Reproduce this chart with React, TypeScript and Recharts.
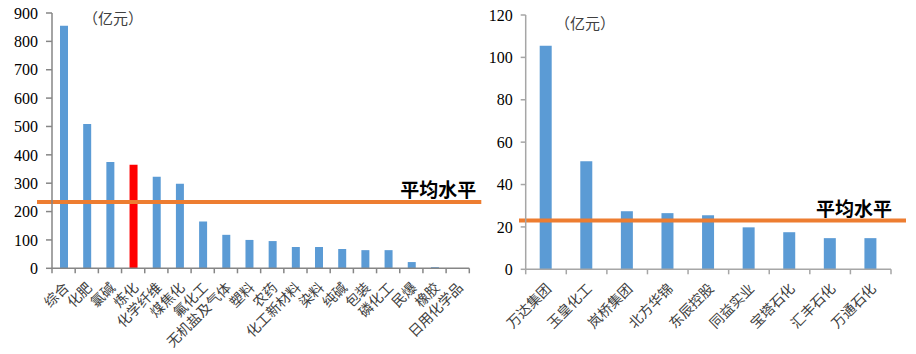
import React from 'react';
import { BarChart, Bar, XAxis, YAxis, Cell, ReferenceLine } from 'recharts';

// Left chart: industries
const leftCategories = ['综合', '化肥', '氯碱', '炼化', '化学纤维', '煤焦化', '氟化工', '无机盐及气体', '塑料', '农药', '化工新材料', '染料', '纯碱', '包装', '磷化工', '民爆', '橡胶', '日用化学品'];
const leftValues = [855, 509, 375, 365, 323, 298, 165, 118, 100, 96, 75, 75, 68, 64, 64, 22, 4, 0.5];
const leftHighlight = '炼化';
const leftAverage = 234;
const leftTicks = [0, 100, 200, 300, 400, 500, 600, 700, 800, 900];

// Right chart: companies
const rightCategories = ['万达集团', '玉皇化工', '岚桥集团', '北方华锦', '东辰控股', '同益实业', '宝塔石化', '汇丰石化', '万通石化'];
const rightValues = [105.5, 51, 27.4, 26.5, 25.5, 19.8, 17.5, 14.7, 14.7];
const rightAverage = 23;
const rightTicks = [0, 20, 40, 60, 80, 100, 120];

const unitLabel = '（亿元）';
const avgLabel = '平均水平';

const leftData = leftCategories.map((name, i) => ({ name, value: leftValues[i] }));
const rightData = rightCategories.map((name, i) => ({ name, value: rightValues[i] }));

const BLUE = '#5B9BD5';
const RED = '#FF0000';
const ORANGE = '#ED7D31';
const CJK = "'Noto Sans CJK SC', 'Noto Sans', sans-serif";
const SERIF = "'Liberation Serif', 'DejaVu Serif', serif";

const makeTick = (count: number, tickSize: number, axisColor: string) => (props: any) => {
  const { x, y, payload, index } = props;
  const off = payload && payload.offset ? payload.offset : 0;
  const axisY = y - tickSize;
  return (
    <g>
      <line x1={x - off} y1={axisY} x2={x - off} y2={axisY + tickSize} stroke={axisColor} strokeWidth={1.5} />
      {index === count - 1 && (
        <line x1={x + off} y1={axisY} x2={x + off} y2={axisY + tickSize} stroke={axisColor} strokeWidth={1.5} />
      )}
      <text
        x={x + 2}
        y={axisY + 16}
        transform={`rotate(-45, ${x + 2}, ${axisY + 16})`}
        textAnchor="end"
        dominantBaseline="central"
        fontSize={14}
        fill="#404040"
        fontFamily={CJK}
      >
        {payload.value}
      </text>
    </g>
  );
};

const makeAvgShape = (extL: number, extR: number, width: number, textDx: number, textDy: number) => (props: any) => {
  const { x1, y1, x2 } = props;
  return (
    <g>
      <line x1={x1 - extL} y1={y1} x2={x2 + extR} y2={y1} stroke={ORANGE} strokeWidth={width} />
      <text x={x2 + textDx} y={y1 - textDy} textAnchor="end" fontSize={19} fontWeight="bold" fill="#000" fontFamily={CJK}>
        {avgLabel}
      </text>
    </g>
  );
};

export default function App() {
  return (
    <div style={{ position: 'absolute', left: 0, top: 0, width: 916, height: 354, background: '#fff', overflow: 'hidden' }}>
      <div style={{ position: 'absolute', left: 0, top: 0 }}>
        <BarChart width={490} height={354} data={leftData} margin={{ top: 13, right: 20.7, bottom: 55.7, left: 0 }}>
          <XAxis
            dataKey="name"
            height={30}
            interval={0}
            tickSize={5}
            tickMargin={0}
            tickLine={false}
            axisLine={{ stroke: '#868686', strokeWidth: 1.5 }}
            tick={makeTick(leftCategories.length, 5, '#868686')}
          />
          <YAxis
            width={52}
            domain={[0, 900]}
            ticks={leftTicks}
            interval={0}
            tickSize={6}
            tickMargin={8}
            axisLine={{ stroke: '#868686', strokeWidth: 1.5 }}
            tickLine={{ stroke: '#868686', strokeWidth: 1.5 }}
            tick={{ fill: '#000', fontSize: 16, fontFamily: SERIF }}
          />
          <Bar dataKey="value" barSize={8} isAnimationActive={false}>
            {leftData.map((d) => (
              <Cell key={d.name} fill={d.name === leftHighlight ? RED : BLUE} />
            ))}
          </Bar>
          <ReferenceLine y={leftAverage} ifOverflow="visible" shape={makeAvgShape(15, 12, 4, 7, 5)} />
        </BarChart>
      </div>
      <div style={{ position: 'absolute', left: 480, top: 0 }}>
        <BarChart width={436} height={354} data={rightData} margin={{ top: 15, right: 25, bottom: 54.7, left: 0 }}>
          <XAxis
            dataKey="name"
            height={30}
            interval={0}
            tickSize={5}
            tickMargin={0}
            tickLine={false}
            axisLine={{ stroke: '#A6A6A6', strokeWidth: 1.5 }}
            tick={makeTick(rightCategories.length, 5, '#A6A6A6')}
          />
          <YAxis
            width={45.7}
            domain={[0, 120]}
            ticks={rightTicks}
            interval={0}
            tickSize={5}
            tickMargin={8}
            axisLine={{ stroke: '#A6A6A6', strokeWidth: 1.5 }}
            tickLine={{ stroke: '#A6A6A6', strokeWidth: 1.5 }}
            tick={{ fill: '#000', fontSize: 16, fontFamily: SERIF }}
          />
          <Bar dataKey="value" barSize={12} fill={BLUE} isAnimationActive={false} />
          <ReferenceLine y={rightAverage} ifOverflow="visible" shape={makeAvgShape(6.7, 15, 4, 1, 4.5)} />
        </BarChart>
      </div>
      <div style={{ position: 'absolute', left: 83, top: 8, fontSize: 15, lineHeight: '20px', color: '#404040', fontFamily: CJK, whiteSpace: 'nowrap' }}>
        {unitLabel}
      </div>
      <div style={{ position: 'absolute', left: 555, top: 13, fontSize: 15, lineHeight: '20px', color: '#404040', fontFamily: CJK, whiteSpace: 'nowrap' }}>
        {unitLabel}
      </div>
    </div>
  );
}
